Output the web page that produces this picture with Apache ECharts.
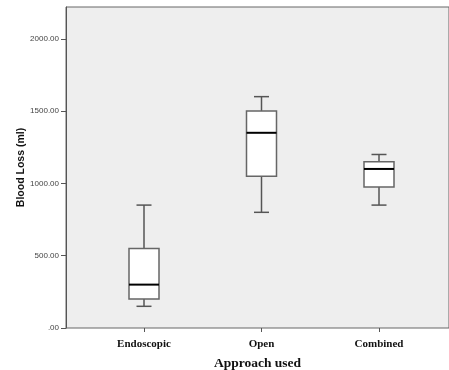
<!DOCTYPE html>
<html>
<head>
<meta charset="utf-8">
<script src="https://cdn.jsdelivr.net/npm/echarts@6/dist/echarts.min.js"></script>
<style>html,body{margin:0;padding:0;background:#fff;}#chart{width:449px;height:370px;}</style>
</head>
<body>
<div id="chart"></div>
<script>
const categories = ['Endoscopic', 'Open', 'Combined'];
const minVals = [150, 800, 850];
const q1Vals = [200, 1050, 975];
const medianVals = [300, 1350, 1100];
const q3Vals = [550, 1500, 1150];
const maxVals = [850, 1600, 1200];
const yTicks = [0, 500, 1000, 1500, 2000];

const boxData = categories.map((c, i) => [i, minVals[i], q1Vals[i], medianVals[i], q3Vals[i], maxVals[i]]);

function renderItem(params, api) {
  const x = api.value(0);
  const pMin = api.coord([x, api.value(1)]);
  const pQ1 = api.coord([x, api.value(2)]);
  const pMed = api.coord([x, api.value(3)]);
  const pQ3 = api.coord([x, api.value(4)]);
  const pMax = api.coord([x, api.value(5)]);
  const cx = pMin[0];
  const half = 15;
  const cap = 7.5;
  const wStyle = { stroke: '#555', lineWidth: 1.5 };
  return {
    type: 'group',
    children: [
      { type: 'line', shape: { x1: cx, y1: pMax[1], x2: cx, y2: pQ3[1] }, style: wStyle },
      { type: 'line', shape: { x1: cx, y1: pQ1[1], x2: cx, y2: pMin[1] }, style: wStyle },
      { type: 'line', shape: { x1: cx - cap, y1: pMax[1], x2: cx + cap, y2: pMax[1] }, style: wStyle },
      { type: 'line', shape: { x1: cx - cap, y1: pMin[1], x2: cx + cap, y2: pMin[1] }, style: wStyle },
      { type: 'rect', shape: { x: cx - half, y: pQ3[1], width: half * 2, height: pQ1[1] - pQ3[1] },
        style: { fill: '#ffffff', stroke: '#666', lineWidth: 1.5 } },
      { type: 'line', shape: { x1: cx - half, y1: pMed[1], x2: cx + half, y2: pMed[1] },
        style: { stroke: '#000', lineWidth: 2 } }
    ]
  };
}

const chart = echarts.init(document.getElementById('chart'));
chart.setOption({
  animation: false,
  grid: [
    { left: 66, right: 0, top: 7, bottom: 42, containLabel: false, outerBoundsMode: 'none',
      show: true, backgroundColor: '#eeeeee', borderColor: '#666', borderWidth: 1 },
    { left: 85.25, right: 11.25, top: 7, bottom: 42, containLabel: false, outerBoundsMode: 'none' }
  ],
  xAxis: [
    { type: 'value', gridIndex: 0, min: 0, max: 1,
      axisLine: { show: false }, axisTick: { show: false }, axisLabel: { show: false }, splitLine: { show: false },
      name: 'Approach used', nameLocation: 'middle', nameGap: 29, nameMoveOverlap: false,
      nameTextStyle: { fontFamily: 'Liberation Serif', fontWeight: 'bold', fontSize: 13.5, color: '#111' } },
    { type: 'category', gridIndex: 1, data: categories,
      axisLine: { show: false },
      axisTick: { show: true, alignWithLabel: true, length: 4, lineStyle: { color: '#555' } },
      axisLabel: { margin: 11, fontFamily: 'Liberation Serif', fontWeight: 'bold', fontSize: 11, color: '#111' },
      splitLine: { show: false } }
  ],
  yAxis: [
    { type: 'value', gridIndex: 0, min: 0, max: 2220, interval: 500,
      axisLine: { show: true, lineStyle: { color: '#555' } },
      axisTick: { show: true, length: 5, lineStyle: { color: '#555' } },
      axisLabel: { showMaxLabel: false, margin: 7, fontFamily: 'Liberation Sans', fontSize: 8, color: '#444',
        formatter: v => yTicks.indexOf(v) < 0 ? '' : (v === 0 ? '.00' : v.toFixed(2)) },
      splitLine: { show: false },
      name: 'Blood Loss (ml)', nameLocation: 'middle', nameGap: 39, nameMoveOverlap: false,
      nameTextStyle: { fontFamily: 'Liberation Sans', fontWeight: 'bold', fontSize: 10.5, color: '#111' } },
    { type: 'value', gridIndex: 1, min: 0, max: 2220, show: false }
  ],
  series: [
    { type: 'custom', xAxisIndex: 1, yAxisIndex: 1, renderItem: renderItem, data: boxData,
      encode: { x: 0, y: [1, 2, 3, 4, 5] } }
  ]
});
</script>
</body>
</html>
